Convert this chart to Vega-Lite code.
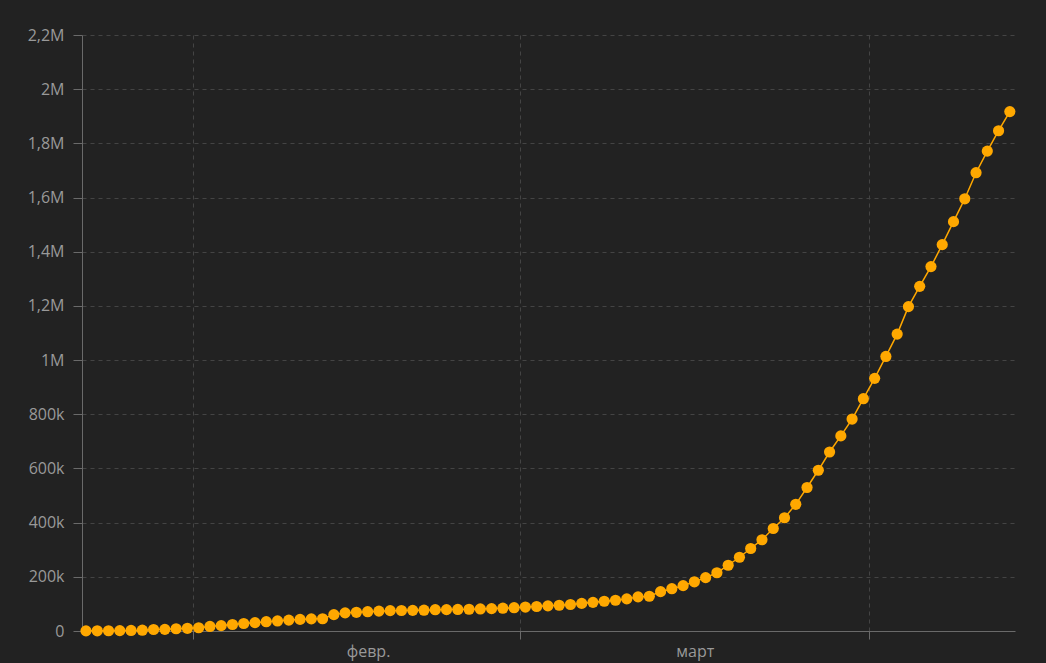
{
  "$schema": "https://vega.github.io/schema/vega-lite/v6.json",
  "width": 933,
  "height": 596,
  "autosize": "none",
  "padding": {"left": 82, "top": 35, "right": 31, "bottom": 32},
  "background": "#222222",
  "config": {
    "view": {"stroke": null},
    "locale": {
      "number": {"decimal": ",", "thousands": "\u00a0", "grouping": [3], "currency": ["", " ₽"]},
      "time": {
        "dateTime": "%A, %e %B %Y г. %X",
        "date": "%d.%m.%Y",
        "time": "%H:%M:%S",
        "periods": ["AM", "PM"],
        "days": ["воскресенье", "понедельник", "вторник", "среда", "четверг", "пятница", "суббота"],
        "shortDays": ["вс", "пн", "вт", "ср", "чт", "пт", "сб"],
        "months": ["январь", "февраль", "март", "апрель", "май", "июнь", "июль", "август", "сентябрь", "октябрь", "ноябрь", "декабрь"],
        "shortMonths": ["янв.", "февр.", "март", "апр.", "май", "июнь", "июль", "авг.", "сент.", "окт.", "нояб.", "дек."]
      }
    },
    "axis": {
      "labelFont": "Open Sans",
      "labelFontSize": 16,
      "labelColor": "#999999",
      "domainColor": "#6a6a6a",
      "tickColor": "#6a6a6a",
      "gridColor": "#444444",
      "gridDash": [4, 4],
      "title": null
    }
  },
  "data": {
    "values": [
      {"date": "2020-01-22T12:00:00", "cases": 555},
      {"date": "2020-01-23T12:00:00", "cases": 654},
      {"date": "2020-01-24T12:00:00", "cases": 941},
      {"date": "2020-01-25T12:00:00", "cases": 1434},
      {"date": "2020-01-26T12:00:00", "cases": 2118},
      {"date": "2020-01-27T12:00:00", "cases": 2927},
      {"date": "2020-01-28T12:00:00", "cases": 5578},
      {"date": "2020-01-29T12:00:00", "cases": 6166},
      {"date": "2020-01-30T12:00:00", "cases": 8234},
      {"date": "2020-01-31T12:00:00", "cases": 9927},
      {"date": "2020-02-01T12:00:00", "cases": 12038},
      {"date": "2020-02-02T12:00:00", "cases": 16787},
      {"date": "2020-02-03T12:00:00", "cases": 19887},
      {"date": "2020-02-04T12:00:00", "cases": 23898},
      {"date": "2020-02-05T12:00:00", "cases": 27643},
      {"date": "2020-02-06T12:00:00", "cases": 30802},
      {"date": "2020-02-07T12:00:00", "cases": 34395},
      {"date": "2020-02-08T12:00:00", "cases": 37129},
      {"date": "2020-02-09T12:00:00", "cases": 40160},
      {"date": "2020-02-10T12:00:00", "cases": 42769},
      {"date": "2020-02-11T12:00:00", "cases": 44811},
      {"date": "2020-02-12T12:00:00", "cases": 45229},
      {"date": "2020-02-13T12:00:00", "cases": 60381},
      {"date": "2020-02-14T12:00:00", "cases": 66909},
      {"date": "2020-02-15T12:00:00", "cases": 69052},
      {"date": "2020-02-16T12:00:00", "cases": 71235},
      {"date": "2020-02-17T12:00:00", "cases": 73270},
      {"date": "2020-02-18T12:00:00", "cases": 75152},
      {"date": "2020-02-19T12:00:00", "cases": 75652},
      {"date": "2020-02-20T12:00:00", "cases": 76212},
      {"date": "2020-02-21T12:00:00", "cases": 76841},
      {"date": "2020-02-22T12:00:00", "cases": 78602},
      {"date": "2020-02-23T12:00:00", "cases": 78982},
      {"date": "2020-02-24T12:00:00", "cases": 79546},
      {"date": "2020-02-25T12:00:00", "cases": 80399},
      {"date": "2020-02-26T12:00:00", "cases": 81376},
      {"date": "2020-02-27T12:00:00", "cases": 82736},
      {"date": "2020-02-28T12:00:00", "cases": 84122},
      {"date": "2020-02-29T12:00:00", "cases": 86011},
      {"date": "2020-03-01T12:00:00", "cases": 88371},
      {"date": "2020-03-02T12:00:00", "cases": 90309},
      {"date": "2020-03-03T12:00:00", "cases": 92844},
      {"date": "2020-03-04T12:00:00", "cases": 95124},
      {"date": "2020-03-05T12:00:00", "cases": 97886},
      {"date": "2020-03-06T12:00:00", "cases": 101800},
      {"date": "2020-03-07T12:00:00", "cases": 105836},
      {"date": "2020-03-08T12:00:00", "cases": 109835},
      {"date": "2020-03-09T12:00:00", "cases": 113582},
      {"date": "2020-03-10T12:00:00", "cases": 118582},
      {"date": "2020-03-11T12:00:00", "cases": 125865},
      {"date": "2020-03-12T12:00:00", "cases": 128343},
      {"date": "2020-03-13T12:00:00", "cases": 145193},
      {"date": "2020-03-14T12:00:00", "cases": 156097},
      {"date": "2020-03-15T12:00:00", "cases": 167449},
      {"date": "2020-03-16T12:00:00", "cases": 181531},
      {"date": "2020-03-17T12:00:00", "cases": 197146},
      {"date": "2020-03-18T12:00:00", "cases": 214910},
      {"date": "2020-03-19T12:00:00", "cases": 242708},
      {"date": "2020-03-20T12:00:00", "cases": 272166},
      {"date": "2020-03-21T12:00:00", "cases": 304524},
      {"date": "2020-03-22T12:00:00", "cases": 336953},
      {"date": "2020-03-23T12:00:00", "cases": 378235},
      {"date": "2020-03-24T12:00:00", "cases": 418045},
      {"date": "2020-03-25T12:00:00", "cases": 467653},
      {"date": "2020-03-26T12:00:00", "cases": 529591},
      {"date": "2020-03-27T12:00:00", "cases": 593291},
      {"date": "2020-03-28T12:00:00", "cases": 660706},
      {"date": "2020-03-29T12:00:00", "cases": 720117},
      {"date": "2020-03-30T12:00:00", "cases": 782365},
      {"date": "2020-03-31T12:00:00", "cases": 857487},
      {"date": "2020-04-01T12:00:00", "cases": 932605},
      {"date": "2020-04-02T12:00:00", "cases": 1013466},
      {"date": "2020-04-03T12:00:00", "cases": 1095917},
      {"date": "2020-04-04T12:00:00", "cases": 1197405},
      {"date": "2020-04-05T12:00:00", "cases": 1272115},
      {"date": "2020-04-06T12:00:00", "cases": 1345101},
      {"date": "2020-04-07T12:00:00", "cases": 1426096},
      {"date": "2020-04-08T12:00:00", "cases": 1511104},
      {"date": "2020-04-09T12:00:00", "cases": 1595350},
      {"date": "2020-04-10T12:00:00", "cases": 1691719},
      {"date": "2020-04-11T12:00:00", "cases": 1771514},
      {"date": "2020-04-12T12:00:00", "cases": 1846680},
      {"date": "2020-04-13T12:00:00", "cases": 1917320}
    ]
  },
  "encoding": {
    "x": {
      "field": "date",
      "type": "temporal",
      "scale": {
        "domain": [
          {"year": 2020, "month": 1, "date": 22, "hours": 3, "minutes": 30},
          {"year": 2020, "month": 4, "date": 13, "hours": 23}
        ]
      },
      "axis": {
        "values": [
          {"year": 2020, "month": 2, "date": 1},
          {"year": 2020, "month": 3, "date": 1},
          {"year": 2020, "month": 4, "date": 1}
        ],
        "format": "%b",
        "labelExpr": "month(datum.value) == 3 ? '' : datum.label",
        "labelOffset": 175,
        "labelBound": false,
        "labelFlush": false,
        "labelOverlap": false,
        "tickSize": 8,
        "labelPadding": 4,
        "grid": true
      }
    },
    "y": {
      "field": "cases",
      "type": "quantitative",
      "scale": {"domain": [0, 2200000], "nice": false},
      "axis": {
        "values": [0, 200000, 400000, 600000, 800000, 1000000, 1200000, 1400000, 1600000, 1800000, 2000000, 2200000],
        "labelExpr": "datum.value == 0 ? '0' : (datum.value >= 1000000 ? format(datum.value / 1000000, '~g') + 'M' : format(datum.value / 1000, '~g') + 'k')",
        "tickSize": 9,
        "labelPadding": 9,
        "grid": true
      }
    }
  },
  "layer": [
    {"mark": {"type": "line", "color": "#FFA800", "strokeWidth": 1.5}},
    {"mark": {"type": "point", "filled": true, "shape": "circle", "size": 125, "color": "#FFA800", "opacity": 1}}
  ]
}
